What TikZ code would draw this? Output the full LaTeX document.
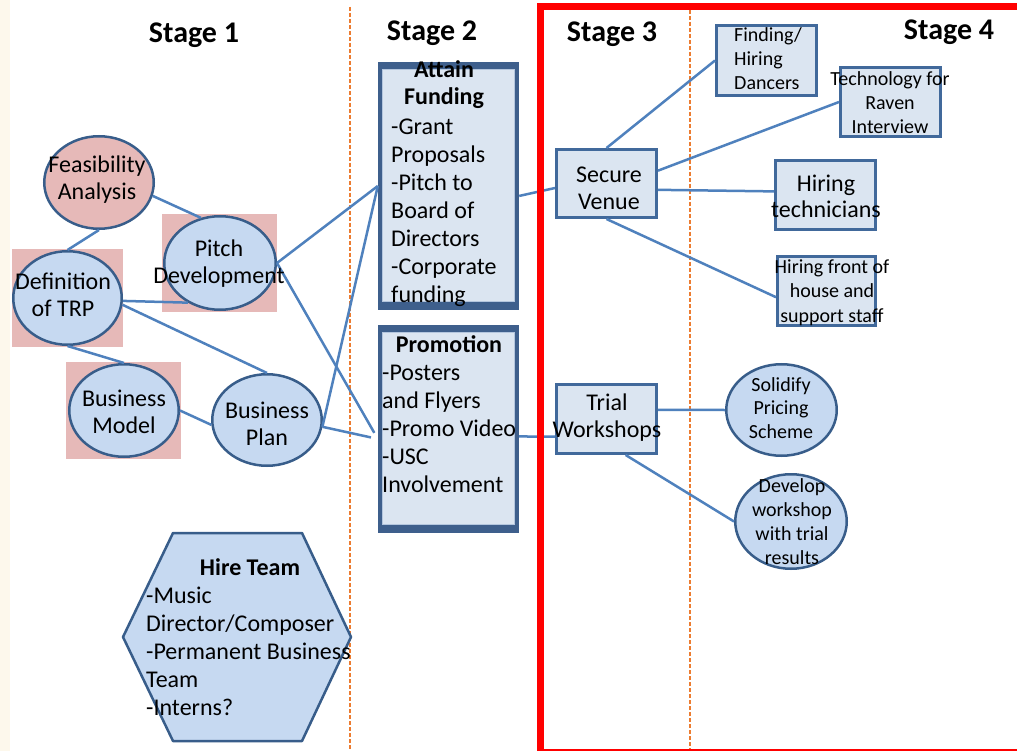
\documentclass[tikz,border=0pt]{standalone}
\usepackage{fontspec}
\setmainfont{Carlito}
\usetikzlibrary{shapes.geometric}
\definecolor{ellfill}{HTML}{C6D9F1}
\definecolor{ellline}{HTML}{385D8A}
\definecolor{pinkfill}{HTML}{E6B9B8}
\definecolor{boxfill}{HTML}{DBE5F1}
\definecolor{boxline}{HTML}{41699B}
\definecolor{framecol}{HTML}{3E5F8C}
\definecolor{innerline}{HTML}{B4C6DE}
\definecolor{connblue}{HTML}{4F81BD}
\definecolor{orangedash}{HTML}{EC7C30}
\definecolor{cream}{HTML}{FDF8EC}
\newcommand\mlc[1]{\begin{tabular}[t]{@{}c@{}}#1\end{tabular}}
\newcommand\mll[1]{\begin{tabular}[t]{@{}l@{}}#1\end{tabular}}
\tikzset{
  ellnode/.style={ellipse, draw=ellline, fill=ellfill, line width=2.5pt, inner sep=0pt},
  pinksq/.style={fill=pinkfill},
  bigtxt/.style={inner sep=0pt, anchor=base, font=\fontsize{24}{27}\selectfont},
  bodytxt/.style={inner sep=0pt, anchor=base west, font=\fontsize{24}{28}\selectfont},
  boldtxt/.style={inner sep=0pt, anchor=base, font=\bfseries\fontsize{24}{27}\selectfont},
  smalltxt/.style={inner sep=0pt, anchor=base, font=\fontsize{20}{24}\selectfont},
  stagetxt/.style={inner sep=0pt, anchor=base, font=\bfseries\fontsize{30}{36}\selectfont},
  stagebox/.style={rectangle, draw=boxline, fill=boxfill, line width=3pt, inner sep=0pt},
  framebox/.style={rectangle, fill=framecol, inner sep=0pt},
  innerbox/.style={fill=boxfill, draw=innerline, line width=1pt},
  link/.style={draw=connblue, line width=2.5pt},
  divider/.style={draw=orangedash, line width=2pt, dash pattern=on 4pt off 2pt},
}
\begin{document}
\begin{tikzpicture}[x=1pt,y=-1pt]
\useasboundingbox (0,0) rectangle (1017,751);
\fill[white] (0,0) rectangle (1017,751);
\fill[cream] (0,0) rectangle (10,751);

% dividers
\coordinate (d1t) at (349.5,7);
\coordinate (d1b) at (349.5,751);
\coordinate (d2t) at (689.5,10);
\coordinate (d2b) at (689.5,751);
\draw[divider] (d1t) -- (d1b);
\draw[divider] (d2t) -- (d2b);

% stage headers
\node[stagetxt] (s1) at (194,43) {Stage 1};
\node[stagetxt] (s2) at (432,41) {Stage 2};
\node[stagetxt] (s3) at (612,42) {Stage 3};
\node[stagetxt] (s4) at (949,40) {Stage 4};

% pink squares
\fill[pinksq] (162,214) rectangle (277,312);
\fill[pinksq] (12,249) rectangle (123,347);
\fill[pinksq] (66,362) rectangle (181,459);

% stage 1 ellipses
\node[ellnode, fill=pinkfill, minimum width=109.5pt, minimum height=92.5pt] (feas) at (99,182.5) {};
\node[ellnode, minimum width=111.5pt, minimum height=93.5pt] (pitch) at (220,263) {};
\node[ellnode, minimum width=108.5pt, minimum height=93.5pt] (def) at (67.5,298) {};
\node[ellnode, minimum width=109.5pt, minimum height=92.5pt] (bmodel) at (124,410.5) {};
\node[ellnode, minimum width=109.5pt, minimum height=91.5pt] (bplan) at (267,420) {};

% stage 2 boxes
\node[framebox, minimum width=141pt, minimum height=248pt] (fund) at (448.5,186) {};
\fill[innerbox] ([xshift=5pt,yshift=-8pt]fund.north west) rectangle ([xshift=-5pt,yshift=9pt]fund.south east);
\node[framebox, minimum width=141pt, minimum height=208pt] (promo) at (448.5,429) {};
\fill[innerbox] ([xshift=5pt,yshift=-8pt]promo.north west) rectangle ([xshift=-5pt,yshift=9pt]promo.south east);

% stage 3 / 4 boxes
\node[stagebox, minimum width=100pt, minimum height=68pt] (sv) at (606.5,183.5) {};
\node[stagebox, minimum width=100pt, minimum height=69pt] (tw) at (606.5,419) {};
\node[stagebox, minimum width=100pt, minimum height=70pt] (find) at (766.5,60.5) {};
\node[stagebox, minimum width=100pt, minimum height=69pt] (tech) at (890.5,102) {};
\node[stagebox, minimum width=100pt, minimum height=69pt] (htech) at (825.5,195) {};
\node[stagebox, minimum width=98pt, minimum height=69pt] (hfront) at (826.5,291) {};
\node[ellnode, minimum width=110.5pt, minimum height=91.5pt] (solid) at (781.5,410) {};
\node[ellnode, minimum width=111.5pt, minimum height=94.5pt] (dev) at (791,521.5) {};

% hexagon
\filldraw[fill=ellfill, draw=ellline, line width=2.5pt, line join=round]
  (173,533) -- (302,533) -- (351,637) -- (302,741) -- (173,741) -- (123,637) -- cycle;

% connectors
\draw[link] (feas.south) -- (def.north);
\draw[link] (feas.-14) -- (pitch.113);
\draw[link] (def.-3) -- (pitch.-129);
\draw[link] (def.-7) -- (bplan.north);
\draw[link] (def.south) -- (bmodel.north);
\draw[link] (bmodel.east) -- (bplan.185);
\draw[link] (pitch.east) -- (fund.west);
\draw[link, shorten >=7pt] (pitch.east) -- (promo.188);
\draw[link] (bplan.-7) -- (fund.west);
\draw[link, shorten >=7pt] (bplan.-7) -- (promo.188);
\draw[link] (fund.-8) -- (sv.185);
\draw[link] (promo.-6.5) -- (tw.199);
\draw[link] (sv.north) -- (find.west);
\draw[link] (sv.14) -- (tech.west);
\draw[link] (sv.-7) -- (htech.176);
\draw[link] (sv.south) -- (hfront.187);
\draw[link] (tw.10) -- (solid.west);
\draw[link] (tw.-62) -- (dev.west);

% red frame
\draw[red, line width=7.5pt] (540.5,6.5) rectangle (1030,752.5);

% texts
\node[bigtxt] (feast) at (97,173) {\mlc{Feasibility\\Analysis}};
\node[bigtxt] (pitcht) at (219,257) {\mlc{Pitch\\Development}};
\node[bigtxt] (deft) at (63,290) {\mlc{Definition\\of TRP}};
\node[bigtxt] (bmodelt) at (124,406) {\mlc{Business\\Model}};
\node[bigtxt] (bplant) at (267,418) {\mlc{Business\\Plan}};

\node[boldtxt] (fundh) at (444,78) {\mlc{Attain\\Funding}};
\node[bodytxt] (fundt) at (391,135) {\mll{-Grant\\Proposals\\-Pitch to\\Board of\\Directors\\-Corporate\\funding}};
\node[boldtxt] (promoh) at (449,352) {Promotion};
\node[bodytxt] (promot) at (382,380) {\mll{-Posters\\and Flyers\\-Promo Video\\-USC\\Involvement}};

\node[boldtxt] (hexh) at (250,575) {Hire Team};
\node[bodytxt] (hext) at (146,603) {\mll{-Music\\Director/Composer\\-Permanent Business\\Team\\-Interns?}};

\node[bigtxt] (svt) at (609,183) {\mlc{Secure\\Venue}};
\node[bigtxt] (twt) at (607,410) {\mlc{Trial\\Workshops}};
\node[smalltxt, anchor=base west] (findt) at (734,42) {\mll{Finding/\\Hiring\\Dancers}};
\node[smalltxt] (techt) at (890,86) {\mlc{Technology for\\Raven\\Interview}};
\node[bigtxt, font=\fontsize{24}{26}\selectfont] (htecht) at (826,192) {\mlc{Hiring\\technicians}};
\node[smalltxt, font=\fontsize{20}{24.5}\selectfont] (hfrontt) at (832,273) {\mlc{Hiring front of\\house and\\support staff}};
\node[smalltxt, font=\fontsize{20}{23.5}\selectfont] (solidt) at (781,391) {\mlc{Solidify\\Pricing\\Scheme}};
\node[smalltxt] (devt) at (792,492) {\mlc{Develop\\workshop\\with trial\\results}};
\end{tikzpicture}
\end{document}
